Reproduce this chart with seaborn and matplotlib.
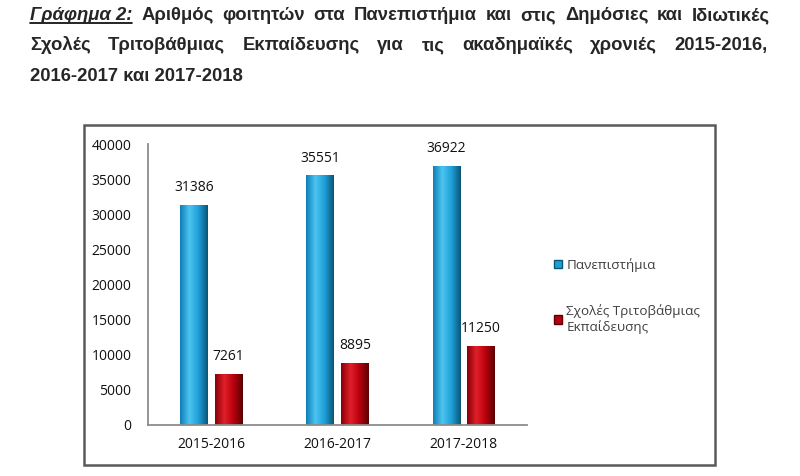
import numpy as np
import pandas as pd
import matplotlib
matplotlib.use("Agg")
import matplotlib.pyplot as plt
import seaborn as sns
from matplotlib.patches import Patch, Rectangle
from matplotlib.lines import Line2D
from matplotlib.colors import LinearSegmentedColormap

years = ['2015-2016', '2016-2017', '2017-2018']
universities = [31386, 35551, 36922]
tertiary_schools = [7261, 8895, 11250]
series_names = ['Πανεπιστήμια', 'Σχολές Τριτοβάθμιας\nΕκπαίδευσης']

title_line1 = ['Γράφημα 2:', 'Αριθμός', 'φοιτητών', 'στα', 'Πανεπιστήμια', 'και',
               'στις', 'Δημόσιες', 'και', 'Ιδιωτικές']
title_line2 = ['Σχολές', 'Τριτοβάθμιας', 'Εκπαίδευσης', 'για', 'τις', 'ακαδημαϊκές',
               'χρονιές', '2015-2016,']
title_line3 = '2016-2017 και 2017-2018'

df = pd.DataFrame({
    'year': years * 2,
    'students': universities + tertiary_schools,
    'type': [series_names[0]] * 3 + [series_names[1]] * 3,
})

sns.set_style('white')
plt.rcParams['font.family'] = ['Open Sans', 'DejaVu Sans']

W, H = 800, 476
fig = plt.figure(figsize=(8, 4.76), dpi=100)
ax = fig.add_axes([148 / W, 1 - 425 / H, (527 - 148) / W, (425 - 144) / H])

blue, red = '#1e9fd8', '#b8000c'
sns.barplot(data=df, x='year', y='students', hue='type', palette=[blue, red],
            width=0.55, gap=0.2, legend=False, ax=ax)

# cylinder-like shading on each bar
cmaps = {
    blue: LinearSegmentedColormap.from_list('b', ['#0f7fb8', '#4cc4f0', '#1e9fd8', '#0a5578']),
    red: LinearSegmentedColormap.from_list('r', ['#8a0008', '#e0202a', '#b8000c', '#5a0004']),
}
grad = np.linspace(0, 1, 64).reshape(1, -1)
for i, cont in enumerate(ax.containers):
    cm = cmaps[[blue, red][i]]
    for p in cont.patches:
        x0, w, h = p.get_x(), p.get_width(), p.get_height()
        im = ax.imshow(grad, cmap=cm, extent=[x0, x0 + w, 0, h], aspect='auto',
                       origin='lower', zorder=p.get_zorder() + 0.1)
        im.set_clip_path(p)
    ax.bar_label(cont, padding=7, fontsize=10, color='#111111')

ax.set_xlim(-0.5, 2.5)
ax.set_ylim(0, 40000)
ax.set_yticks(range(0, 40001, 5000))
ax.set_xlabel('')
ax.set_ylabel('')
ax.tick_params(axis='both', length=0, labelsize=10, colors='#111111')
ax.tick_params(axis='y', pad=12)
ax.tick_params(axis='x', pad=9)
sns.despine(ax=ax)
for s in ['left', 'bottom']:
    ax.spines[s].set_color('#8c8c8c')
    ax.spines[s].set_linewidth(1.3)

handles = [Patch(facecolor=blue, edgecolor='#0a5578'), Patch(facecolor=red, edgecolor='#5a0004')]
leg = fig.legend(handles, series_names, loc='upper left', bbox_to_anchor=(542 / W, 1 - 246 / H),
                 frameon=False, fontsize=9.7, handlelength=0.6, handleheight=0.6,
                 handletextpad=0.3, labelspacing=2.4, labelcolor='#404040')

# outer frame
fig.add_artist(Rectangle((84 / W, 1 - 465 / H), 631 / W, 340 / H, transform=fig.transFigure,
                         fill=False, edgecolor='#5a5a5a', linewidth=1.8))

# justified title
tfont = ['Liberation Sans', 'DejaVu Sans']
renderer = fig.canvas.get_renderer()


def justified(words, y_px, x0_px, x1_px, first_style=None):
    texts = []
    for k, wd in enumerate(words):
        kw = dict(fontsize=13.3, fontweight='bold', family=tfont, va='baseline', ha='left')
        if k == 0 and first_style:
            kw.update(first_style)
        texts.append(fig.text(0, 1 - y_px / H, wd, **kw))
    widths = [t.get_window_extent(renderer).width for t in texts]
    gap = (x1_px - x0_px - sum(widths)) / (len(words) - 1)
    x = x0_px
    for t, wdt in zip(texts, widths):
        t.set_x(x / W)
        x += wdt + gap
    return texts, widths


t1, w1 = justified(title_line1, 20, 30, 770, first_style=dict(fontstyle='italic'))
fig.add_artist(Line2D([30 / W, (30 + w1[0]) / W], [1 - 22.5 / H] * 2, transform=fig.transFigure,
                      color='black', linewidth=1.2))
justified(title_line2, 50, 30, 768)
fig.text(30 / W, 1 - 81 / H, title_line3, fontsize=13.3, fontweight='bold', family=tfont,
         va='baseline', ha='left')

fig.savefig('out.png', dpi=100)
